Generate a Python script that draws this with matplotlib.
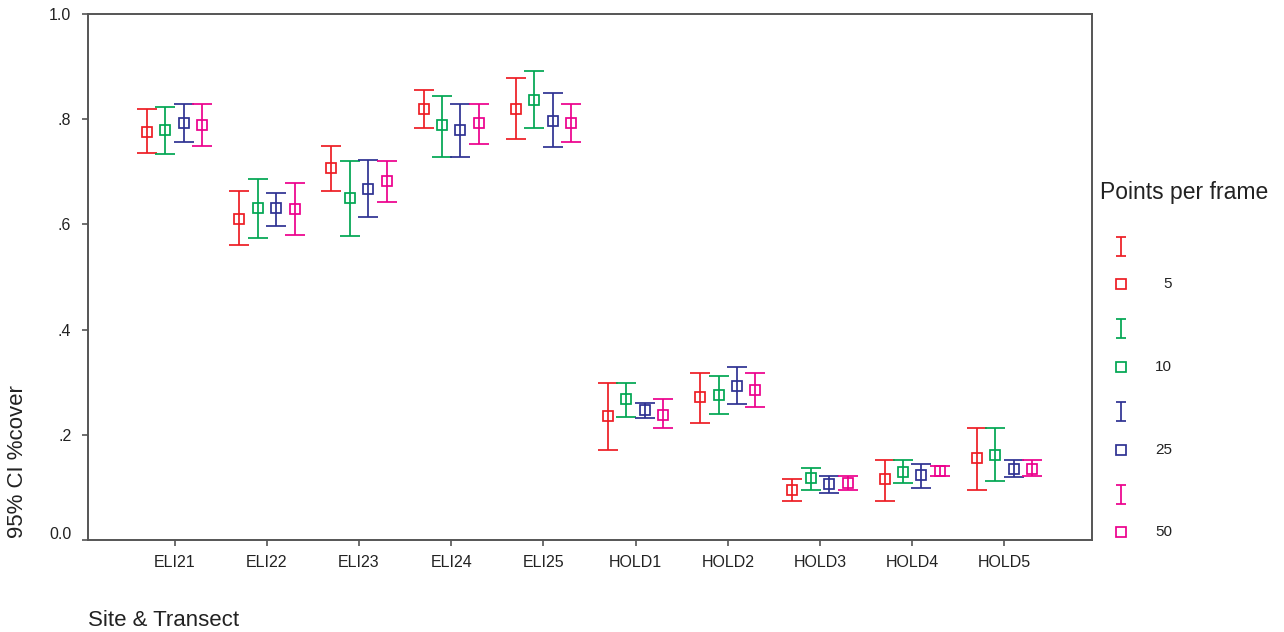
import matplotlib
matplotlib.use("Agg")
import matplotlib.pyplot as plt
import matplotlib.transforms as mtransforms
import numpy as np

plt.rcParams['font.family'] = ['Liberation Sans', 'DejaVu Sans']

# 95% CI of % cover per transect, for each sampling density
sites = ["ELI21", "ELI22", "ELI23", "ELI24", "ELI25",
         "HOLD1", "HOLD2", "HOLD3", "HOLD4", "HOLD5"]
points = ["5", "10", "25", "50"]

mean_5 = [0.776, 0.610, 0.707, 0.819, 0.819, 0.236, 0.272, 0.096, 0.116, 0.155]
low_5  = [0.736, 0.561, 0.663, 0.783, 0.762, 0.172, 0.222, 0.075, 0.075, 0.096]
high_5 = [0.819, 0.663, 0.749, 0.856, 0.879, 0.298, 0.318, 0.116, 0.152, 0.212]

mean_10 = [0.780, 0.631, 0.650, 0.789, 0.837, 0.268, 0.275, 0.117, 0.129, 0.162]
low_10  = [0.733, 0.574, 0.577, 0.729, 0.783, 0.234, 0.239, 0.096, 0.109, 0.113]
high_10 = [0.823, 0.686, 0.721, 0.845, 0.892, 0.298, 0.311, 0.136, 0.152, 0.212]

mean_25 = [0.793, 0.631, 0.667, 0.779, 0.796, 0.247, 0.292, 0.106, 0.124, 0.135]
low_25  = [0.756, 0.597, 0.614, 0.729, 0.747, 0.231, 0.258, 0.089, 0.099, 0.119]
high_25 = [0.829, 0.659, 0.722, 0.829, 0.849, 0.261, 0.328, 0.122, 0.145, 0.152]

mean_50 = [0.789, 0.629, 0.683, 0.793, 0.793, 0.238, 0.285, 0.108, 0.132, 0.135]
low_50  = [0.750, 0.580, 0.643, 0.753, 0.756, 0.212, 0.252, 0.096, 0.122, 0.122]
high_50 = [0.829, 0.679, 0.720, 0.829, 0.829, 0.268, 0.318, 0.122, 0.141, 0.152]

means = [mean_5, mean_10, mean_25, mean_50]
lows = [low_5, low_10, low_25, low_50]
highs = [high_5, high_10, high_25, high_50]
colors = ["#ED1C24", "#00A651", "#2E3192", "#EC008C"]
offsets = [-0.3, -0.1, 0.1, 0.3]

W, H = 1284, 632
fig = plt.figure(figsize=(W / 100, H / 100), dpi=100)
ax = fig.add_axes([88 / W, 1 - 540 / H, (1092 - 88) / W, (540 - 14) / H])

x = np.arange(len(sites))
lw = 1.25
for m, lo, hi, c, off in zip(means, lows, highs, colors, offsets):
    m = np.array(m); lo = np.array(lo); hi = np.array(hi)
    ax.errorbar(x + off, m, yerr=[m - lo, hi - m], fmt='s', color=c,
                mfc='none', mec=c, ms=7.8, mew=lw, elinewidth=lw,
                capsize=6.9, capthick=lw)

ax.set_xlim(-0.94, 9.95)
ax.set_ylim(0, 1.0)
ax.set_xticks(x)
ax.set_xticklabels(sites)
ax.set_yticks([0, 0.2, 0.4, 0.6, 0.8, 1.0])
ax.set_yticklabels(["0.0", ".2", ".4", ".6", ".8", "1.0"])
ax.tick_params(axis='both', direction='out', length=4, width=1.2,
               color="#555555", labelsize=11.5, labelcolor="#222222")
ax.tick_params(axis='y', pad=8)
ax.tick_params(axis='x', pad=7)
for s in ax.spines.values():
    s.set_color("#555555")
    s.set_linewidth(1.4)

# the zero label sits a little above its tick
zero_lab = ax.get_yticklabels()[0]
zero_lab.set_transform(zero_lab.get_transform() +
                       mtransforms.ScaledTranslation(0, 7 / 100, fig.dpi_scale_trans))

fig.text(18 / W, 1 - 462 / H, "95% CI %cover", rotation=90, fontsize=16,
         color="#222222", ha='center', va='center')
fig.text(88 / W, 1 - 621 / H, "Site & Transect", fontsize=16,
         color="#222222", ha='left', va='center')

# legend drawn in pixel space on an overlay axes
leg = fig.add_axes([0, 0, 1, 1])
leg.set_xlim(0, W)
leg.set_ylim(H, 0)
leg.axis('off')
leg.text(1100, 193, "Points per frame", fontsize=16.5, color="#222222",
         ha='left', va='center')
bar_y = [246, 328, 411, 494]
box_y = [284, 367, 450, 532]
for lab, c, by, sy in zip(points, colors, bar_y, box_y):
    leg.errorbar([1121], [by], yerr=[[9.5], [9.5]], fmt='none', ecolor=c,
                 elinewidth=lw, capsize=3.6, capthick=lw)
    leg.plot([1121], [sy], 's', mfc='none', mec=c, ms=7.8, mew=lw)
    leg.text(1172, sy, lab, fontsize=11, color="#222222", ha='right',
             va='center')

fig.savefig("out.png", dpi=100)
